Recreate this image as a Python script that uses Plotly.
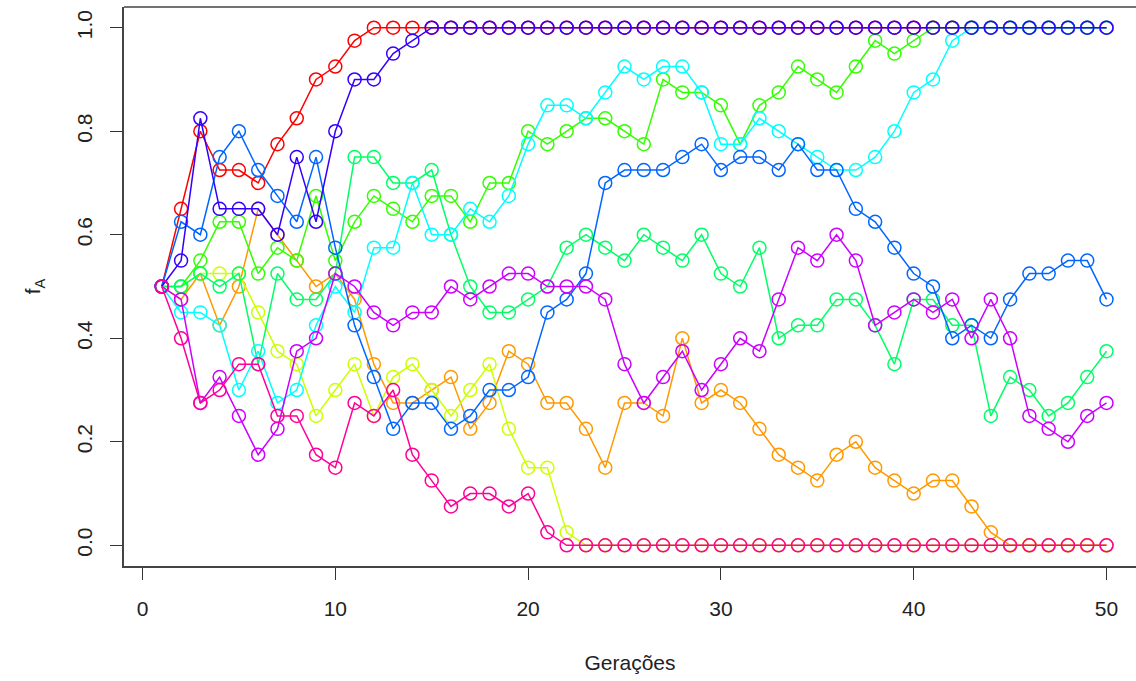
import plotly.graph_objects as go

generations = list(range(1, 51))

red = [0.5, 0.65, 0.8, 0.725, 0.725, 0.7, 0.775, 0.825, 0.9, 0.925, 0.975] + [1.0] * 39
orange = [0.5, 0.475, 0.525, 0.425, 0.5, 0.65, 0.6, 0.55, 0.5, 0.525,
          0.475, 0.35, 0.275, 0.275, 0.3, 0.325, 0.225, 0.275, 0.375, 0.35,
          0.275, 0.275, 0.225, 0.15, 0.275, 0.275, 0.25, 0.4, 0.275, 0.3,
          0.275, 0.225, 0.175, 0.15, 0.125, 0.175, 0.2, 0.15, 0.125, 0.1,
          0.125, 0.125, 0.075, 0.025, 0.0, 0.0, 0.0, 0.0, 0.0, 0.0]
yellow = [0.5, 0.5, 0.525, 0.525, 0.525, 0.45, 0.375, 0.35, 0.25, 0.3,
          0.35, 0.25, 0.325, 0.35, 0.3, 0.25, 0.3, 0.35, 0.225, 0.15,
          0.15, 0.025] + [0.0] * 28
green_a = [0.5, 0.5, 0.55, 0.625, 0.625, 0.525, 0.575, 0.55, 0.675, 0.55,
           0.625, 0.675, 0.65, 0.625, 0.675, 0.675, 0.625, 0.7, 0.7, 0.8,
           0.775, 0.8, 0.825, 0.825, 0.8, 0.775, 0.9, 0.875, 0.875, 0.85,
           0.775, 0.85, 0.875, 0.925, 0.9, 0.875, 0.925, 0.975, 0.95, 0.975] + [1.0] * 10
green_b = [0.5, 0.5, 0.525, 0.5, 0.525, 0.35, 0.525, 0.475, 0.475, 0.525,
           0.75, 0.75, 0.7, 0.7, 0.725, 0.6, 0.5, 0.45, 0.45, 0.475,
           0.5, 0.575, 0.6, 0.575, 0.55, 0.6, 0.575, 0.55, 0.6, 0.525,
           0.5, 0.575, 0.4, 0.425, 0.425, 0.475, 0.475, 0.425, 0.35, 0.475,
           0.475, 0.425, 0.425, 0.25, 0.325, 0.3, 0.25, 0.275, 0.325, 0.375]
cyan = [0.5, 0.45, 0.45, 0.425, 0.3, 0.375, 0.275, 0.3, 0.425, 0.5,
        0.45, 0.575, 0.575, 0.7, 0.6, 0.6, 0.65, 0.625, 0.675, 0.775,
        0.85, 0.85, 0.825, 0.875, 0.925, 0.9, 0.925, 0.925, 0.875, 0.775,
        0.775, 0.825, 0.8, 0.775, 0.75, 0.725, 0.725, 0.75, 0.8, 0.875,
        0.9, 0.975] + [1.0] * 8
blue = [0.5, 0.625, 0.6, 0.75, 0.8, 0.725, 0.675, 0.625, 0.75, 0.575,
        0.425, 0.325, 0.225, 0.275, 0.275, 0.225, 0.25, 0.3, 0.3, 0.325,
        0.45, 0.475, 0.525, 0.7, 0.725, 0.725, 0.725, 0.75, 0.775, 0.725,
        0.75, 0.75, 0.725, 0.775, 0.725, 0.725, 0.65, 0.625, 0.575, 0.525,
        0.5, 0.4, 0.425, 0.4, 0.475, 0.525, 0.525, 0.55, 0.55, 0.475]
indigo = [0.5, 0.55, 0.825, 0.65, 0.65, 0.65, 0.6, 0.75, 0.625, 0.8,
          0.9, 0.9, 0.95, 0.975] + [1.0] * 36
violet = [0.5, 0.475, 0.275, 0.325, 0.25, 0.175, 0.225, 0.375, 0.4, 0.525,
          0.5, 0.45, 0.425, 0.45, 0.45, 0.5, 0.475, 0.5, 0.525, 0.525,
          0.5, 0.5, 0.5, 0.475, 0.35, 0.275, 0.325, 0.375, 0.3, 0.35,
          0.4, 0.375, 0.475, 0.575, 0.55, 0.6, 0.55, 0.425, 0.45, 0.475,
          0.45, 0.475, 0.4, 0.475, 0.4, 0.25, 0.225, 0.2, 0.25, 0.275]
pink = [0.5, 0.4, 0.275, 0.3, 0.35, 0.35, 0.25, 0.25, 0.175, 0.15,
        0.275, 0.25, 0.3, 0.175, 0.125, 0.075, 0.1, 0.1, 0.075, 0.1,
        0.025] + [0.0] * 29

series = [red, orange, yellow, green_a, green_b, cyan, blue, indigo, violet, pink]
colors = ["#FF0000", "#FF9900", "#CCFF00", "#33FF00", "#00FF66",
          "#00FFFF", "#0066FF", "#3300FF", "#CC00FF", "#FF0099"]

x_ticks = [0, 10, 20, 30, 40, 50]
y_ticks = [0.0, 0.2, 0.4, 0.6, 0.8, 1.0]
y_tick_labels = ["0.0", "0.2", "0.4", "0.6", "0.8", "1.0"]

FONT = "Liberation Sans, Arial, Helvetica, sans-serif"

fig = go.Figure()
for vals, col in zip(series, colors):
    fig.add_trace(go.Scatter(
        x=generations, y=vals, mode="lines+markers",
        line=dict(color=col, width=1.5),
        marker=dict(symbol="circle-open", size=13, color=col, line=dict(width=1.5, color=col)),
        showlegend=False, hoverinfo="x+y",
    ))

fig.update_layout(
    width=1136, height=681,
    margin=dict(l=124, r=0, t=7, b=115),
    paper_bgcolor="white", plot_bgcolor="white",
    font=dict(family=FONT, size=21, color="#222"),
    xaxis=dict(
        range=[-0.96, 51.53], tickvals=x_ticks, ticks="outside", ticklen=12,
        tickwidth=1.2, tickcolor="#333", showgrid=False, zeroline=False,
        showline=True, linecolor="#444", linewidth=1.5,
        ticklabelstandoff=11,
        title=dict(text="Gerações", standoff=36, font=dict(size=21)),
    ),
    yaxis=dict(
        range=[-0.04, 1.04], tickvals=y_ticks, ticktext=y_tick_labels,
        ticks="outside", ticklen=12, tickwidth=1.2, tickcolor="#333",
        tickangle=-90, showgrid=False, zeroline=False,
        showline=True, linecolor="#444", linewidth=1.5,
        ticklabelstandoff=10,
        title=dict(text="f<sub>A</sub>", standoff=26, font=dict(size=21)),
    ),
    shapes=[dict(type="line", xref="paper", yref="paper", x0=0, x1=1, y0=1, y1=1,
                 line=dict(color="#444", width=1.5))],
)

fig.write_html("out.html")
